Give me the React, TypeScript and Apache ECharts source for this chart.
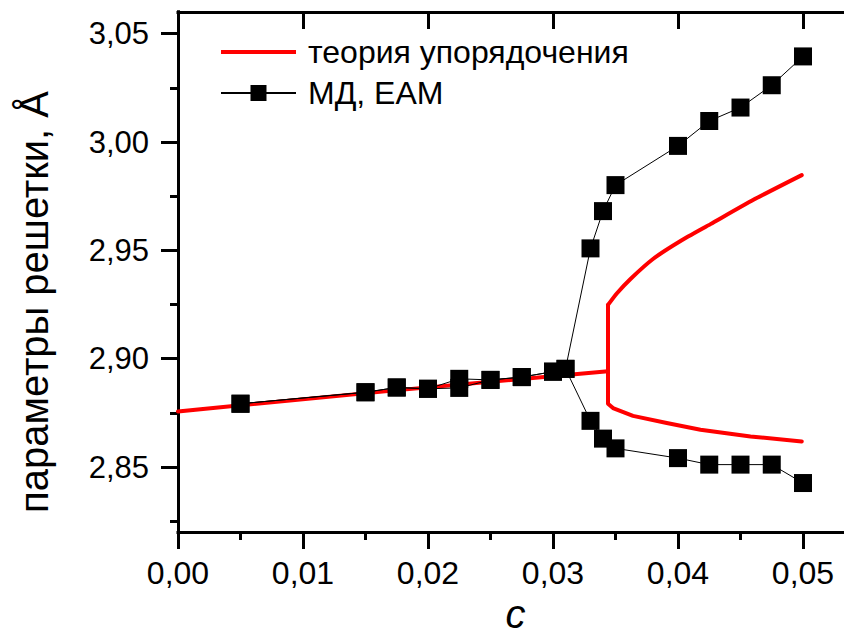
import React, { useEffect, useRef } from "react";
import * as echarts from "echarts";

// theory (red) curve: left linear branch
const theoryLeft: [number, number][] = [
  [0, 2.8756], [0.0018, 2.8767], [0.0178, 2.8856], [0.0344, 2.8942],
];
// theory (red) curve: upper branch (from the fork to the right end)
const theoryUpper: [number, number][] = [
  [0.0344, 2.9248], [0.0351, 2.9301], [0.0362, 2.9368], [0.038, 2.946], [0.0402, 2.9543],
  [0.0426, 2.9621], [0.046, 2.9732], [0.0499, 2.9847],
];
// theory (red) curve: vertical jump at the fork and lower branch
const theoryLower: [number, number][] = [
  [0.0344, 2.9248], [0.0344, 2.8792], [0.0348, 2.8772], [0.0364, 2.8736], [0.0391, 2.8703],
  [0.0418, 2.8672], [0.0458, 2.8641], [0.0499, 2.8618],
];
// MD, EAM: upper branch series
const mdUpper: [number, number][] = [
  [0.005, 2.8792], [0.015, 2.8845], [0.0175, 2.8867], [0.02, 2.8861], [0.0225, 2.8907],
  [0.025, 2.8902], [0.0275, 2.8915], [0.03, 2.894], [0.031, 2.8953], [0.033, 2.9509],
  [0.034, 2.9681], [0.035, 2.9801], [0.04, 2.9982], [0.0425, 3.0097], [0.045, 3.0159],
  [0.0475, 3.0262], [0.05, 3.0395],
];
// MD, EAM: lower branch series
const mdLower: [number, number][] = [
  [0.005, 2.8792], [0.015, 2.8845], [0.0175, 2.8867], [0.02, 2.8861], [0.0225, 2.8865],
  [0.025, 2.8902], [0.0275, 2.8915], [0.03, 2.894], [0.031, 2.8953], [0.033, 2.8713],
  [0.034, 2.8631], [0.035, 2.8586], [0.04, 2.8541], [0.0425, 2.8511], [0.045, 2.8511],
  [0.0475, 2.8511], [0.05, 2.8426],
];

const xMajor = [0, 0.01, 0.02, 0.03, 0.04, 0.05];
const xMinor = [0.005, 0.015, 0.025, 0.035, 0.045];
const yMajor = [2.85, 2.9, 2.95, 3.0, 3.05];
const yMinor = [2.825, 2.875, 2.925, 2.975, 3.025];

const X_MIN = 0, X_MAX = 0.054, Y_MIN = 2.82, Y_MAX = 3.06;

const FONT = "'Liberation Sans', Arial, sans-serif";
const fmt = (v: number) => v.toFixed(2).replace(".", ",");

export default function App() {
  const ref = useRef<HTMLDivElement>(null);
  useEffect(() => {
    if (!ref.current) return;
    const chart = echarts.init(ref.current, null, { renderer: "svg" });
    const axisLine = { show: true, lineStyle: { color: "#000", width: 3, cap: "square" } };
    const baseX = { type: "value", min: X_MIN, max: X_MAX, splitLine: { show: false } };
    const baseY = { type: "value", min: Y_MIN, max: Y_MAX, splitLine: { show: false } };
    const red = { color: "#ff0000", width: 4, cap: "round", join: "round" };
    chart.setOption({
      animation: false,
      backgroundColor: "#fff",
      grid: { left: 178, top: 12, width: 675, height: 520, containLabel: false, outerBoundsMode: "none" },
      legend: {
        orient: "vertical",
        left: 215,
        top: 31,
        itemWidth: 75,
        itemHeight: 20,
        itemGap: 9,
        selectedMode: false,
        textStyle: { fontSize: 32, fontFamily: FONT, color: "#000", padding: [0, 0, 0, 7] },
        data: [
          { name: "теория упорядочения", icon: "path://M0,0h75v4h-75z", itemStyle: { color: "#ff0000" } },
          { name: "МД, ЕАМ" },
        ],
      },
      xAxis: [
        {
          ...baseX,
          position: "bottom",
          axisLine,
          axisTick: { show: true, customValues: xMajor, length: 17, lineStyle: { color: "#000", width: 3 } },
          axisLabel: { show: true, customValues: xMajor, formatter: fmt, fontSize: 32, fontFamily: FONT, color: "#000", margin: 25 },
          name: "c",
          nameLocation: "middle",
          nameGap: 56,
          nameTextStyle: { fontSize: 40, fontStyle: "italic", fontFamily: FONT, color: "#000", lineHeight: 40 },
        },
        {
          ...baseX,
          position: "bottom",
          axisLine: { show: false },
          axisTick: { show: true, customValues: xMinor, length: 8, lineStyle: { color: "#000", width: 3 } },
          axisLabel: { show: false },
        },
        {
          ...baseX,
          position: "top",
          axisLine,
          axisTick: { show: true, inside: true, customValues: xMajor, length: 17, lineStyle: { color: "#000", width: 3 } },
          axisLabel: { show: false },
        },
      ],
      yAxis: [
        {
          ...baseY,
          position: "left",
          axisLine,
          axisTick: { show: true, customValues: yMajor, length: 17, lineStyle: { color: "#000", width: 3 } },
          axisLabel: { show: true, customValues: yMajor, formatter: fmt, fontSize: 31, fontFamily: FONT, color: "#000", margin: 29 },
        },
        {
          ...baseY,
          position: "left",
          axisLine: { show: false },
          axisTick: { show: true, customValues: yMinor, length: 8, lineStyle: { color: "#000", width: 3 } },
          axisLabel: { show: false },
        },
        {
          ...baseY,
          position: "right",
          axisLine,
          axisTick: { show: true, inside: true, customValues: yMajor, length: 17, lineStyle: { color: "#000", width: 3 } },
          axisLabel: { show: false },
        },
      ],
      graphic: [
        {
          type: "text",
          x: 34,
          y: 302,
          rotation: Math.PI / 2,
          style: {
            text: "параметры решетки, Å",
            fontSize: 40,
            fontFamily: FONT,
            fill: "#000",
            align: "center",
            verticalAlign: "middle",
          },
        },
      ],
      series: [
        {
          name: "теория упорядочения",
          type: "line",
          data: theoryLeft,
          symbol: "none",
          lineStyle: red,
          itemStyle: { color: "#ff0000" },
          z: 2,
        },
        {
          name: "теория упорядочения",
          type: "line",
          data: theoryUpper,
          symbol: "none",
          smooth: 0.2,
          lineStyle: red,
          itemStyle: { color: "#ff0000" },
          z: 2,
        },
        {
          name: "теория упорядочения",
          type: "line",
          data: theoryLower,
          symbol: "none",
          lineStyle: red,
          itemStyle: { color: "#ff0000" },
          z: 2,
        },
        {
          name: "МД, ЕАМ",
          type: "line",
          data: mdUpper,
          symbol: "rect",
          symbolSize: 18,
          lineStyle: { color: "#000", width: 1 },
          itemStyle: { color: "#000" },
          z: 3,
        },
        {
          name: "МД, ЕАМ",
          type: "line",
          data: mdLower,
          symbol: "rect",
          symbolSize: 18,
          lineStyle: { color: "#000", width: 1 },
          itemStyle: { color: "#000" },
          z: 3,
        },
      ],
    });
    return () => chart.dispose();
  }, []);
  return (
    <div style={{ position: "absolute", left: 0, top: 0, width: 844, height: 632, overflow: "hidden", background: "#fff" }}>
      <div ref={ref} style={{ width: 880, height: 632 }} />
    </div>
  );
}
